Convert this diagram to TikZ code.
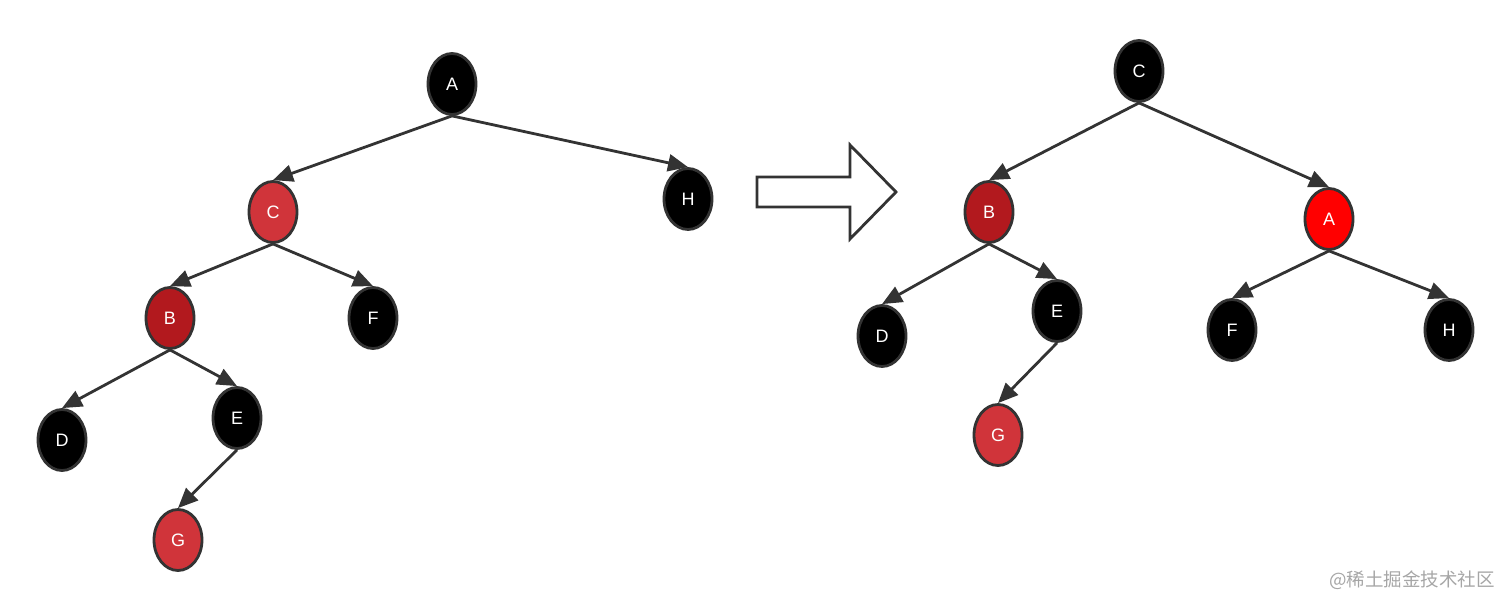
\documentclass[tikz,border=0pt]{standalone}
\usepackage{fontspec}
\setmainfont{Liberation Sans}
\newfontfamily\cjk{Noto Sans CJK SC}
\usetikzlibrary{shapes.geometric,arrows.meta}
\definecolor{edgec}{HTML}{333333}
\definecolor{redc}{HTML}{D0343A}
\definecolor{darkredc}{HTML}{B2191E}
\definecolor{brightred}{HTML}{FF0000}
\begin{document}
\begin{tikzpicture}[x=1pt,y=-1pt,
  nd/.style={ellipse,draw=edgec,line width=2.8pt,minimum width=48pt,minimum height=61pt,inner sep=0pt,text=white,font=\fontsize{18}{18}\selectfont},
  bk/.style={nd,fill=black},
  rd/.style={nd,fill=redc},
  drd/.style={nd,fill=darkredc},
  brd/.style={nd,fill=brightred},
  ed/.style={draw=edgec,line width=2.8pt,-{Triangle[length=20pt,width=17pt]}},
]
\useasboundingbox (0,0) rectangle (1512,609);
% left tree
\node[bk] (A) at (452,84) {A};
\node[rd] (C) at (273,212) {C};
\node[bk] (H) at (688,199) {H};
\node[drd] (B) at (170,318) {B};
\node[bk] (F) at (373,318) {F};
\node[bk] (D) at (62,440) {D};
\node[bk] (E) at (237,418) {E};
\node[rd] (G) at (178,540) {G};
\draw[ed] (A.south) -- (C.north);
\draw[ed] (A.south) -- (H.north);
\draw[ed] (C.south) -- (B.north);
\draw[ed] (C.south) -- (F.north);
\draw[ed] (B.south) -- (D.north);
\draw[ed] (B.south) -- (E.north);
\draw[ed] (E.south) -- (G.north);
% transform arrow
\draw[edgec,line width=2.8pt,line join=miter,fill=white]
  (757,177) -- (850,177) -- (850,145) -- (896,192) -- (850,239) -- (850,207) -- (757,207) -- cycle;
% right tree
\node[bk] (C2) at (1139,71) {C};
\node[drd] (B2) at (989,212) {B};
\node[brd] (A2) at (1329,219) {A};
\node[bk] (D2) at (882,336) {D};
\node[bk] (E2) at (1057,311) {E};
\node[bk] (F2) at (1232,330) {F};
\node[bk] (H2) at (1449,330) {H};
\node[rd] (G2) at (998,435) {G};
\draw[ed] (C2.south) -- (B2.north);
\draw[ed] (C2.south) -- (A2.north);
\draw[ed] (B2.south) -- (D2.north);
\draw[ed] (B2.south) -- (E2.north);
\draw[ed] (E2.south) -- (G2.north);
\draw[ed] (A2.south) -- (F2.north);
\draw[ed] (A2.south) -- (H2.north);
% watermark
\node[text=black!35,font=\cjk\fontsize{18.5}{18.5}\selectfont,anchor=east,inner sep=0pt] (wm) at (1495,580) {@稀土掘金技术社区};
\end{tikzpicture}
\end{document}
